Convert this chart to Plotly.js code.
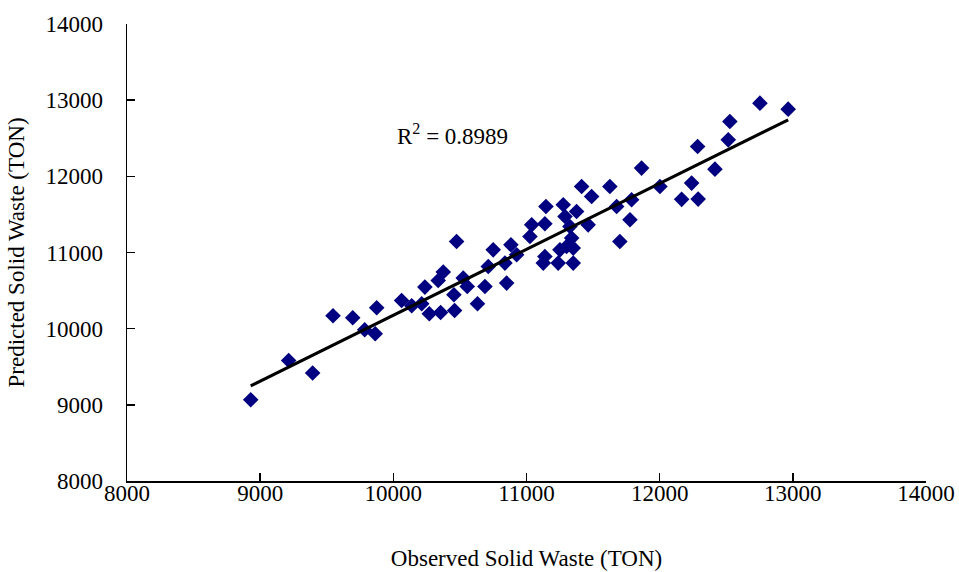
<!DOCTYPE html>
<html>
<head>
<meta charset="utf-8">
<script src="https://cdn.plot.ly/plotly-3.0.1.min.js"></script>
<style>html,body{margin:0;padding:0;background:#fff;}#chart{width:959px;height:572px;}</style>
</head>
<body>
<div id="chart"></div>
<script>
// Observed vs predicted solid waste (TON)
const observed = [8929, 9214, 9394, 9547, 9695, 9785, 9864, 9875, 10062, 10138,
  10213, 10270, 10355, 10460, 10237, 10337, 10375, 10525, 10555, 10455,
  10475, 10632, 10688, 10713, 10750, 10838, 10851, 10883, 10926, 11026,
  11039, 11146, 11138, 11138, 11126, 11238, 11351, 11276, 11289, 11376,
  11326, 11339, 11301, 11251, 11351, 11463, 11414, 11489, 11626, 11864,
  11677, 11789, 11777, 11701, 12002, 12165, 12753, 12965, 12527, 12515,
  12285, 12415, 12240, 12289];
const predicted = [9067, 9583, 9417, 10169, 10143, 9986, 9933, 10274, 10370, 10300,
  10327, 10196, 10213, 10239, 10546, 10633, 10743, 10664, 10554, 10445,
  11144, 10327, 10554, 10816, 11035, 10861, 10598, 11101, 10970, 11210,
  11363, 11604, 11377, 10947, 10861, 10861, 10861, 11626, 11472, 11538,
  11341, 11189, 11079, 11035, 11058, 11363, 11866, 11735, 11866, 12108,
  11604, 11692, 11429, 11144, 11866, 11698, 12961, 12882, 12719, 12479,
  12391, 12094, 11911, 11701];
const tickValues = [8000, 9000, 10000, 11000, 12000, 13000, 14000];
const tickLabels = ["8000", "9000", "10000", "11000", "12000", "13000", "14000"];
const rSquaredLabel = "R<sup>2</sup> = 0.8989";
const xTitle = "Observed Solid Waste (TON)";
const yTitle = "Predicted Solid Waste (TON)";

// least-squares trend line computed from the data
const n = observed.length;
const mx = observed.reduce((a, b) => a + b, 0) / n;
const my = predicted.reduce((a, b) => a + b, 0) / n;
let sxy = 0, sxx = 0;
for (let i = 0; i < n; i++) { sxy += (observed[i] - mx) * (predicted[i] - my); sxx += (observed[i] - mx) ** 2; }
const slope = sxy / sxx, intercept = my - slope * mx;
const xMin = Math.min(...observed), xMax = Math.max(...observed);
const trendX = [xMin, xMax];
const trendY = trendX.map(v => intercept + slope * v);

const font = {family: "Liberation Serif, Times New Roman, serif", color: "#000", size: 23};

const traces = [
  {x: observed, y: predicted, type: "scatter", mode: "markers",
   marker: {symbol: "diamond", size: 12, color: "#000080"}, hoverinfo: "x+y"},
  {x: trendX, y: trendY, type: "scatter", mode: "lines",
   line: {color: "#000", width: 3}, hoverinfo: "skip"}
];

const axisCommon = {
  range: [8000, 14000], tickmode: "array", tickvals: tickValues, ticktext: tickLabels,
  showgrid: false, zeroline: false,
  showline: true, linecolor: "#000", linewidth: 1.5, ticks: "inside", ticklen: 8,
  tickcolor: "#000", tickwidth: 1.5, tickfont: font, fixedrange: true
};

const layout = {
  width: 959, height: 572, showlegend: false,
  paper_bgcolor: "#fff", plot_bgcolor: "#fff", font: font,
  margin: {l: 127, r: 33, t: 24, b: 91},
  xaxis: Object.assign({}, axisCommon, {title: {text: xTitle, font: font, standoff: 45}, ticklabelstandoff: -9}),
  yaxis: Object.assign({}, axisCommon, {title: {text: yTitle, font: font, standoff: 14}, ticklabelstandoff: 18}),
  annotations: [{x: 10010, y: 12545, xref: "x", yref: "y", xanchor: "left", yanchor: "middle",
    text: rSquaredLabel, showarrow: false, font: font}]
};

Plotly.newPlot("chart", traces, layout, {displayModeBar: false, staticPlot: true});
</script>
</body>
</html>
